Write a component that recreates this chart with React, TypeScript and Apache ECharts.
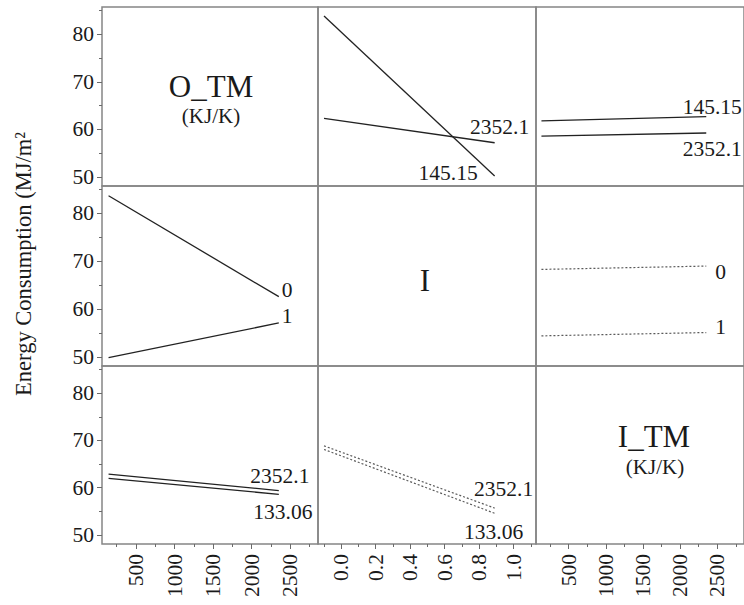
import React, { useEffect, useRef } from "react";
import * as echarts from "echarts";

// Factor levels
const oTmLevels = ["145.15", "2352.1"];
const iTmLevels = ["133.06", "2352.1"];
const iLevels = ["0", "1"];

// x positions of the profile end points
const oTmX = [145.15, 2352.1];
const iTmX = [133.06, 2352.1];
const iX = [-0.1, 0.89];

// Energy consumption at the end points (MJ/m2)
// row O_TM, column I: traces by O_TM
const oTmByI_145 = [83.85, 50.2];
const oTmByI_2352 = [62.34, 57.2];
// row O_TM, column I_TM: traces by O_TM
const oTmByITm_145 = [61.8, 62.7];
const oTmByITm_2352 = [58.6, 59.25];
// row I, column O_TM: traces by I
const iByOTm_0 = [83.7, 62.6];
const iByOTm_1 = [49.86, 57.1];
// row I, column I_TM: traces by I
const iByITm_0 = [68.3, 69.0];
const iByITm_1 = [54.4, 55.1];
// row I_TM, column O_TM: traces by I_TM
const iTmByOTm_2352 = [62.9, 59.4];
const iTmByOTm_133 = [62.0, 58.6];
// row I_TM, column I: traces by I_TM
const iTmByI_2352 = [68.86, 55.7];
const iTmByI_133 = [68.1, 54.6];

// Axis ticks
const yMajor = [50, 60, 70, 80];
const yMinor = [55, 65, 75, 85];
const tmMajor = [500, 1000, 1500, 2000, 2500];
const tmMinor = [250, 750, 1250, 1750, 2250, 2750];
const iMajor = [0, 0.2, 0.4, 0.6, 0.8, 1.0];
const iMinor = [-0.1, 0.1, 0.3, 0.5, 0.7, 0.9, 1.1];

const Y_MIN = 48.1;
const Y_MAX = 85.75;
const TM_MIN = 60;
const TM_MAX = 2860;
const I_MIN = -0.135;
const I_MAX = 1.13;

const FONT = "'Liberation Serif', 'Times New Roman', serif";
const TEXT = "#1a1a1a";
const BORDER = "#858585";
const TICK = "#6a6a6a";

const colLeft = [102, 318, 536];
const colWidth = [216, 218, 216];
const rowTop = [7, 186, 366];
const rowHeight = [179, 180, 178];

const colRange = [
  [TM_MIN, TM_MAX],
  [I_MIN, I_MAX],
  [TM_MIN, TM_MAX],
];
const colMajor = [tmMajor, iMajor, tmMajor];
const colMinor = [tmMinor, iMinor, tmMinor];

type LabelPos = { position: string; offset: number[] };

function profile(
  grid: number,
  xs: number[],
  ys: number[],
  name: string,
  lab: LabelPos,
  dotted: boolean
) {
  const data = xs.map((x, i) =>
    i === xs.length - 1
      ? {
          value: [x, ys[i]],
          label: {
            show: true,
            formatter: name,
            position: lab.position,
            offset: lab.offset,
            fontFamily: FONT,
            fontSize: 21.5,
            color: TEXT,
          },
        }
      : { value: [x, ys[i]] }
  );
  return {
    type: "line",
    xAxisIndex: grid,
    yAxisIndex: grid,
    data,
    symbol: "circle",
    symbolSize: 0,
    showSymbol: true,
    silent: true,
    lineStyle: dotted
      ? { color: "#5a5a5a", width: 1.2, type: [2, 2] }
      : { color: "#222", width: 1.3, type: "solid" },
    itemStyle: { color: "#222" },
  };
}

export default function App() {
  const ref = useRef<HTMLDivElement>(null);

  useEffect(() => {
    if (!ref.current) return;
    const chart = echarts.init(ref.current, undefined, { renderer: "svg" });

    const grids: any[] = [];
    const xAxes: any[] = [];
    const yAxes: any[] = [];

    for (let r = 0; r < 3; r++) {
      for (let c = 0; c < 3; c++) {
        const g = r * 3 + c;
        grids.push({
          left: colLeft[c],
          top: rowTop[r],
          width: colWidth[c],
          height: rowHeight[r],
          show: true,
          borderColor: BORDER,
          borderWidth: 1.5,
          backgroundColor: "transparent",
          containLabel: false,
        });
        const bottomRow = r === 2;
        const leftCol = c === 0;
        xAxes.push({
          type: "value",
          gridIndex: g,
          position: "bottom",
          min: colRange[c][0],
          max: colRange[c][1],
          axisLine: { show: false },
          splitLine: { show: false },
          axisTick: {
            show: bottomRow,
            customValues: colMajor[c],
            length: 5,
            lineStyle: { color: TICK, width: 1 },
          },
          axisLabel: {
            show: bottomRow,
            customValues: colMajor[c],
            rotate: 90,
            align: "right",
            verticalAlign: "middle",
            margin: 10,
            hideOverlap: false,
            fontFamily: FONT,
            fontSize: 21.5,
            color: TEXT,
            formatter: (v: number) => (c === 1 ? v.toFixed(1) : String(v)),
          },
        });
        yAxes.push({
          type: "value",
          gridIndex: g,
          position: "left",
          min: Y_MIN,
          max: Y_MAX,
          axisLine: { show: false },
          splitLine: { show: false },
          axisTick: {
            show: leftCol,
            customValues: yMajor,
            length: 5,
            lineStyle: { color: TICK, width: 1 },
          },
          axisLabel: {
            show: leftCol,
            customValues: yMajor,
            margin: 8,
            fontFamily: FONT,
            fontSize: 21.5,
            color: TEXT,
          },
        });
      }
    }

    // minor ticks on the outer axes
    for (let r = 0; r < 3; r++) {
      yAxes.push({
        type: "value",
        gridIndex: r * 3,
        position: "left",
        min: Y_MIN,
        max: Y_MAX,
        axisLine: { show: false },
        splitLine: { show: false },
        axisTick: {
          show: true,
          customValues: yMinor,
          length: 3,
          lineStyle: { color: TICK, width: 1 },
        },
        axisLabel: { show: false },
      });
    }
    for (let c = 0; c < 3; c++) {
      xAxes.push({
        type: "value",
        gridIndex: 6 + c,
        position: "bottom",
        min: colRange[c][0],
        max: colRange[c][1],
        axisLine: { show: false },
        splitLine: { show: false },
        axisTick: {
          show: true,
          customValues: colMinor[c],
          length: 3,
          lineStyle: { color: TICK, width: 1 },
        },
        axisLabel: { show: false },
      });
    }

    const series = [
      // O_TM row
      profile(1, iX, oTmByI_145, oTmLevels[0], { position: "left", offset: [-12, -3] }, false),
      profile(1, iX, oTmByI_2352, oTmLevels[1], { position: "top", offset: [5, 0] }, false),
      profile(2, iTmX, oTmByITm_145, oTmLevels[0], { position: "top", offset: [6, 6] }, false),
      profile(2, iTmX, oTmByITm_2352, oTmLevels[1], { position: "bottom", offset: [6, 0] }, false),
      // I row
      profile(3, oTmX, iByOTm_0, iLevels[0], { position: "right", offset: [-2, -7] }, false),
      profile(3, oTmX, iByOTm_1, iLevels[1], { position: "right", offset: [-2, -6.6] }, false),
      profile(5, iTmX, iByITm_0, iLevels[0], { position: "right", offset: [4, 6] }, true),
      profile(5, iTmX, iByITm_1, iLevels[1], { position: "right", offset: [4, -6] }, true),
      // I_TM row
      profile(6, oTmX, iTmByOTm_2352, iTmLevels[1], { position: "top", offset: [1, 1] }, false),
      profile(6, oTmX, iTmByOTm_133, iTmLevels[0], { position: "bottom", offset: [4, 1.5] }, false),
      profile(7, iX, iTmByI_2352, iTmLevels[1], { position: "top", offset: [9, -3] }, true),
      profile(7, iX, iTmByI_133, iTmLevels[0], { position: "bottom", offset: [-1, 2.5] }, true),
    ];

    const diag = (x: number, y: number, text: string, size: number) => ({
      type: "text",
      x,
      y,
      silent: true,
      style: {
        text,
        fontFamily: FONT,
        fontSize: size,
        fill: TEXT,
        textAlign: "center",
        textVerticalAlign: "middle",
      },
    });

    chart.setOption({
      animation: false,
      backgroundColor: "#ffffff",
      grid: grids,
      xAxis: xAxes,
      yAxis: yAxes,
      series,
      graphic: [
        diag(211, 86, "O_TM", 31),
        diag(211, 116, "(KJ/K)", 21),
        diag(425, 280, "I", 31),
        diag(654, 436, "I_TM", 31),
        diag(655, 467, "(KJ/K)", 21),
        {
          type: "text",
          x: 23,
          y: 264,
          rotation: Math.PI / 2,
          silent: true,
          style: {
            text: "Energy Consumption (MJ/m²",
            fontFamily: FONT,
            fontSize: 22.5,
            fill: TEXT,
            textAlign: "center",
            textVerticalAlign: "middle",
          },
        },
      ],
    });

    return () => chart.dispose();
  }, []);

  return (
    <div
      ref={ref}
      style={{ position: "fixed", left: 0, top: 0, width: 744, height: 605 }}
    />
  );
}
